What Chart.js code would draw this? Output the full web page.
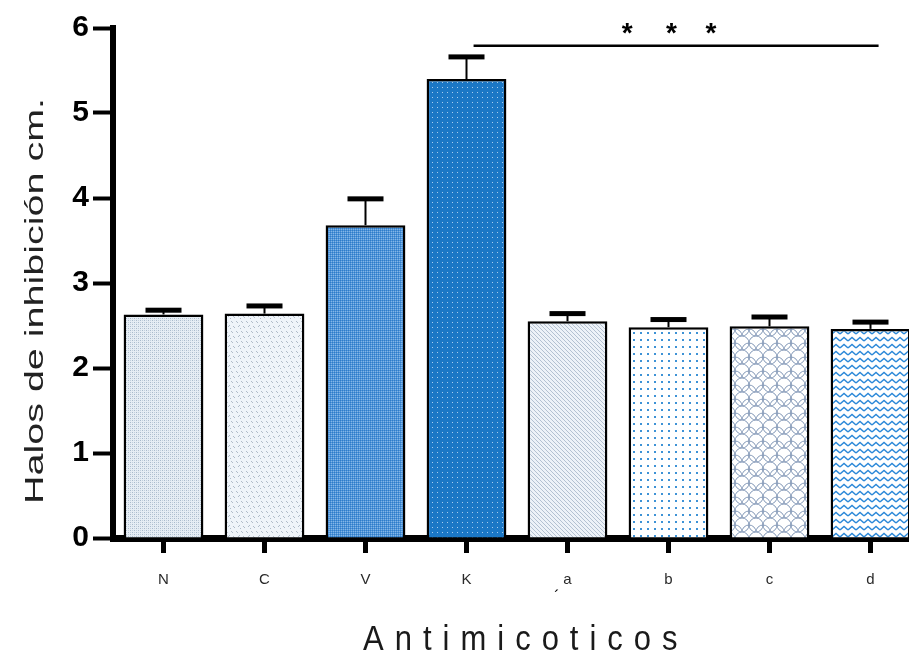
<!DOCTYPE html>
<html>
<head>
<meta charset="utf-8">
<script src="https://cdn.jsdelivr.net/npm/chart.js@4/dist/chart.umd.min.js"></script>
<style>
  html, body { margin: 0; padding: 0; background: #fff; overflow: hidden; width: 909px; height: 663px; }
  #wrap { position: absolute; left: 0; top: 0; width: 921px; height: 663px; }
</style>
</head>
<body>
<div id="wrap"><canvas id="c"></canvas></div>
<script>
// ---- data ----
const categories = ['N', 'C', 'V', 'K', 'a', 'b', 'c', 'd'];
const halos = [2.63, 2.64, 3.68, 5.40, 2.55, 2.48, 2.49, 2.46];
const errors = [0.05, 0.09, 0.31, 0.26, 0.09, 0.09, 0.11, 0.08];
const yTicks = [0, 1, 2, 3, 4, 5, 6];
const sigFrom = 3.07, sigTo = 7.08, sigLevel = 5.79;
const sigStars = ['*', '*', '*'];
const sigStarPos = [4.59, 5.03, 5.42];
const yTitle = 'Halos de inhibición cm.';
const xTitle = 'Antimicoticos';

// ---- patterns ----
function tile(w, h, draw) {
  const c = document.createElement('canvas');
  c.width = w; c.height = h;
  const g = c.getContext('2d');
  draw(g);
  return g.createPattern(c, 'repeat');
}
const px = (g, x, y, col, s = 1) => { g.fillStyle = col; g.fillRect(x, y, s, s); };
const patterns = [
  tile(4, 4, g => { g.fillStyle = '#e6edf4'; g.fillRect(0,0,4,4);
    px(g,0,0,'#a9bacb'); px(g,2,2,'#a9bacb'); px(g,2,0,'#c3d0dd'); px(g,0,2,'#c3d0dd'); }),
  tile(10, 10, g => { g.fillStyle = '#eff4f9'; g.fillRect(0,0,10,10);
    [[1,1],[2,2],[6,1],[7,2],[3,6],[4,7],[8,6],[9,5],[0,8]].forEach(p => px(g,p[0],p[1],'#b0bcc9')); }),
  tile(2, 2, g => { g.fillStyle = '#4e94d8'; g.fillRect(0,0,2,2);
    px(g,0,0,'#2f7cc9'); px(g,1,1,'#86b6e6'); }),
  tile(5, 5, g => { g.fillStyle = '#1b77c5'; g.fillRect(0,0,5,5);
    px(g,2,2,'#a9cdee'); }),
  tile(4, 4, g => { g.fillStyle = '#edf2f8'; g.fillRect(0,0,4,4);
    for (let i = 0; i < 4; i++) px(g,i,i,'#b3c1d1'); }),
  tile(7, 7, g => { g.fillStyle = '#ffffff'; g.fillRect(0,0,7,7);
    px(g,3,3,'#3d92d6',2); }),
  tile(14, 14, g => { g.fillStyle = '#ffffff'; g.fillRect(0,0,14,14);
    g.strokeStyle = '#8499b8'; g.lineWidth = 1;
    g.beginPath(); g.arc(0, 7, 7, -Math.PI/2, Math.PI/2); g.stroke();
    g.beginPath(); g.arc(14, 7, 7, Math.PI/2, 3*Math.PI/2); g.stroke();
    g.beginPath(); g.arc(7, 14, 7, Math.PI, 2*Math.PI); g.stroke(); }),
  tile(8, 7, g => { g.fillStyle = '#ffffff'; g.fillRect(0,0,8,7);
    g.strokeStyle = '#2b88d8'; g.lineWidth = 1.4;
    g.beginPath(); g.moveTo(0,5); g.lineTo(4,1.5); g.lineTo(8,5); g.stroke(); })
];

// ---- extras plugin ----
const extras = {
  id: 'extras',
  afterDatasetsDraw(chart) {
    const ctx = chart.ctx, x = chart.scales.x, y = chart.scales.y;
    const meta = chart.getDatasetMeta(0);
    ctx.save();
    ctx.fillStyle = '#000'; ctx.strokeStyle = '#000';
    // error bars (upper only)
    halos.forEach((v, i) => {
      const bx = meta.data[i].x;
      const yb = y.getPixelForValue(v), yt = y.getPixelForValue(v + errors[i]);
      ctx.lineWidth = 2;
      ctx.beginPath(); ctx.moveTo(bx, yb); ctx.lineTo(bx, yt); ctx.stroke();
      ctx.fillRect(bx - 18, yt - 2.5, 36, 5);
    });
    // significance line
    const ys = y.getPixelForValue(sigLevel);
    ctx.lineWidth = 2.5;
    ctx.beginPath();
    ctx.moveTo(x.getPixelForValue(sigFrom), ys);
    ctx.lineTo(x.getPixelForValue(sigTo), ys);
    ctx.stroke();
    ctx.font = 'bold 28px "Liberation Sans", Arial, sans-serif';
    ctx.textAlign = 'center'; ctx.textBaseline = 'alphabetic';
    sigStars.forEach((s, i) => ctx.fillText(s, x.getPixelForValue(sigStarPos[i]), ys - 4));
    ctx.restore();
  },
  afterDraw(chart) {
    const ctx = chart.ctx;
    ctx.save();
    ctx.fillStyle = '#222';
    // y title (rotated, stretched along its length)
    ctx.font = '25px "Liberation Sans", Arial, sans-serif';
    const w = ctx.measureText(yTitle).width;
    ctx.translate(36, 301);
    ctx.rotate(-Math.PI / 2);
    ctx.scale(406 / w, 1);
    ctx.textAlign = 'center'; ctx.textBaseline = 'middle';
    ctx.fillText(yTitle, 0, 0);
    ctx.restore();
    // x title
    ctx.save();
    ctx.fillStyle = '#1a1a1a';
    ctx.font = '31px "Liberation Sans", Arial, sans-serif';
    ctx.letterSpacing = '11px';
    ctx.textAlign = 'left'; ctx.textBaseline = 'middle';
    ctx.translate(363, 640);
    ctx.scale(1, 1.12);
    ctx.fillText(xTitle, 0, 0);
    ctx.restore();
    ctx.save();
    ctx.fillStyle = '#000';
    ctx.font = '16px "Liberation Sans", Arial, sans-serif';
    ctx.textAlign = 'center'; ctx.textBaseline = 'middle';
    ctx.fillText('´', 557, 598);
    ctx.restore();
  }
};

new Chart(document.getElementById('c'), {
  type: 'bar',
  data: {
    labels: categories,
    datasets: [{
      data: halos,
      backgroundColor: patterns,
      borderColor: '#000',
      borderWidth: 2.5,
      borderSkipped: 'bottom',
      barPercentage: 0.79,
      categoryPercentage: 1
    }]
  },
  options: {
    responsive: true,
    maintainAspectRatio: false,
    animation: false,
    devicePixelRatio: 1,
    layout: { padding: { top: 28, right: 0, bottom: 0, left: 0 } },
    plugins: { legend: { display: false }, tooltip: { enabled: false } },
    scales: {
      x: {
        offset: true,
        border: { display: true, color: '#000', width: 7 },
        grid: { display: true, offset: false, drawOnChartArea: false, drawTicks: true,
                tickLength: 15, tickWidth: 5, tickColor: '#000' },
        ticks: { color: '#2a2a2a', padding: 18,
                 font: { family: '"Liberation Sans", Arial, sans-serif', size: 15 } },
        afterFit(s) { s.height = 125; }
      },
      y: {
        min: 0, max: 6,
        afterBuildTicks(s) { s.ticks = yTicks.map(v => ({ value: v })); },
        border: { display: true, color: '#000', width: 6 },
        grid: { display: true, drawOnChartArea: false, drawTicks: true,
                tickLength: 20, tickWidth: 4, tickColor: '#000' },
        ticks: { color: '#000', padding: 4,
                 font: { family: '"Liberation Sans", Arial, sans-serif', size: 30, weight: 'bold' } },
        afterFit(s) { s.width = 113; }
      }
    }
  },
  plugins: [extras]
});
</script>
</body>
</html>
